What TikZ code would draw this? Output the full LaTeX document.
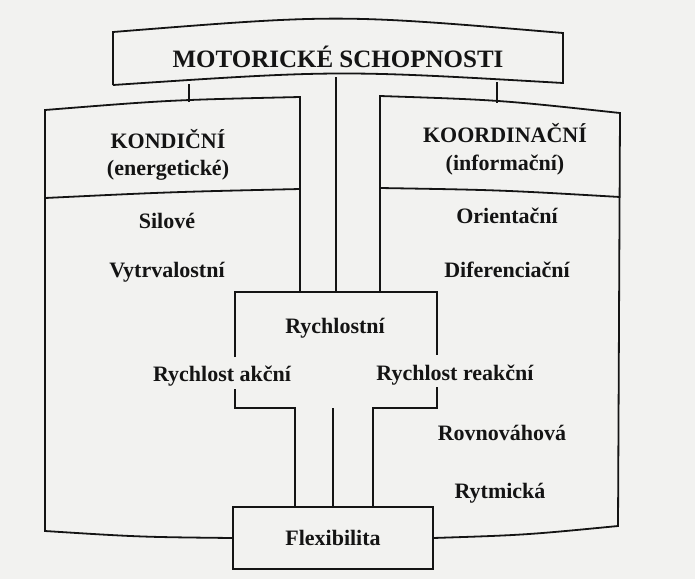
\documentclass[tikz,border=0pt]{standalone}
\usepackage{fontspec}
\setmainfont{Liberation Serif}
\definecolor{ink}{HTML}{141414}
\definecolor{paper}{HTML}{F2F2F0}
\begin{document}
\begin{tikzpicture}[x=1pt,y=-1pt,
  line width=1.8pt, draw=ink, line join=miter,
  lbl/.style={font=\bfseries\fontsize{22}{24}\selectfont, text=ink, inner sep=0pt},
  ttl/.style={font=\bfseries\fontsize{25}{28}\selectfont, text=ink, inner sep=0pt},
  flexbox/.style={draw=ink, line width=1.8pt, minimum width=200pt, minimum height=62pt, inner sep=0pt}]
\useasboundingbox[fill=paper] (0,0) rectangle (695,579);

% title box with arched top and bottom edges
\draw[ink] (113,85) -- (113,32) .. controls (338,14) .. (563,33) -- (563,83)
  .. controls (338,70) .. (113,85);
\node[ttl] (motor) at (338,57) {MOTORICKÉ SCHOPNOSTI};

% connection points under the title box
\coordinate (tl) at (189,84);
\coordinate (tc) at (336,77);
\coordinate (tr) at (497,82);

% left column (conditional abilities)
\coordinate (kl) at (189,102);
\draw[ink] (300,292) -- (300,97) .. controls (170,100) .. (45,110) -- (45,531)
  .. controls (140,537) .. (233,538);
\draw[ink] (45,198) .. controls (170,192) .. (300,189);
\node[lbl] (kond) at (168,139) {KONDIČNÍ};
\node[lbl] (energ) at (168,170) {(energetické)};
\node[lbl] (silove) at (167,221) {Silové};
\node[lbl] (vytrv) at (167,272) {Vytrvalostní};

% right column (coordination abilities)
\coordinate (kr) at (497,103);
\draw[ink] (380,292) -- (380,96) .. controls (500,100) .. (620,113) -- (618,526)
  .. controls (525,535) .. (433,538);
\draw[ink] (380,188) .. controls (500,190) .. (620,197);
\node[lbl] (koord) at (505,133) {KOORDINAČNÍ};
\node[lbl] (inform) at (505,165) {(informační)};
\node[lbl] (orient) at (507,216) {Orientační};
\node[lbl] (difer) at (507,270) {Diferenciační};
\node[lbl] (rovno) at (502,433) {Rovnováhová};
\node[lbl] (rytm) at (500,493) {Rytmická};

% links from the title box
\draw[ink] (tl) -- (kl);
\draw[ink] (tr) -- (kr);
\coordinate (rc) at (336,292);
\draw[ink] (tc) -- (rc);

% speed block
\draw[ink] (235,357) -- (235,292) -- (437,292) -- (437,355);
\node[lbl] (rychl) at (335,328) {Rychlostní};
\node[lbl] (akcni) at (222,376) {Rychlost akční};
\node[lbl] (reakc) at (455,375) {Rychlost reakční};

% flexibility box and the stem leading to it
\node[flexbox] (flex) at (333,538) {};
\node[lbl] (flext) at (flex.center) {Flexibilita};
\coordinate (sc) at (333,408);
\draw[ink] (235,389) -- (235,408) -- (295,408) -- (flex.north -| 295,0);
\draw[ink] (437,387) -- (437,408) -- (373,408) -- (flex.north -| 373,0);
\draw[ink] (sc) -- (flex.north);
\end{tikzpicture}
\end{document}
